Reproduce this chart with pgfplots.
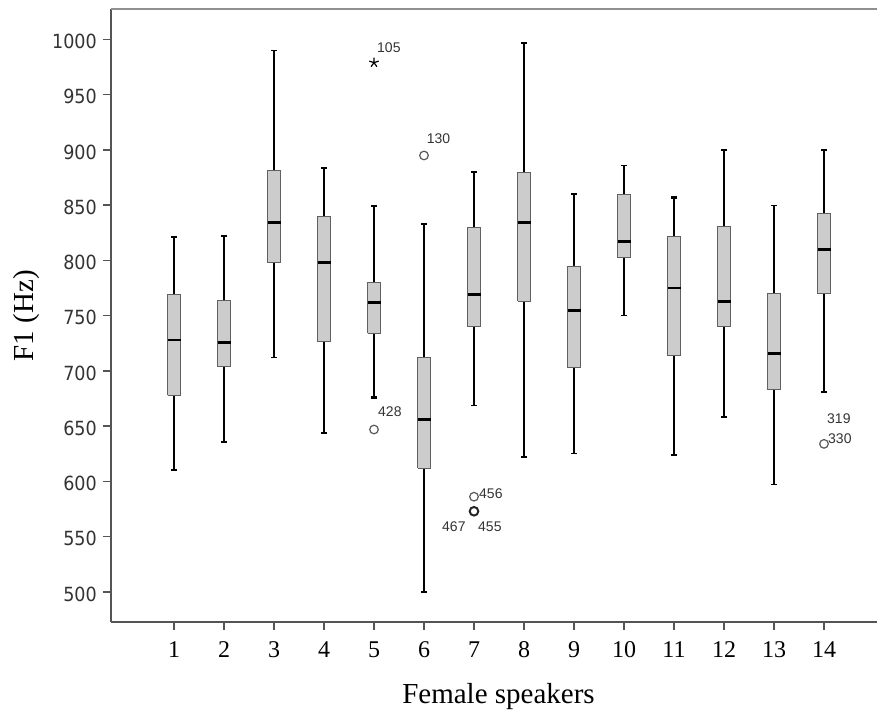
\documentclass[border=0pt]{standalone}
\usepackage{fontspec}
\setmainfont{Liberation Serif}
\newfontfamily\tickfont{DejaVu Sans Condensed}
\newfontfamily\labfont{Liberation Sans}
\usepackage{pgfplots}
\pgfplotsset{compat=1.18}
\definecolor{boxfill}{HTML}{CCCCCC}
\definecolor{boxline}{HTML}{606060}
\definecolor{axisgray}{HTML}{555555}
\definecolor{topgray}{HTML}{909090}
\tikzset{olab/.style={anchor=west, inner sep=0pt, font=\labfont\fontsize{14}{14}\selectfont, text=black!80}}
\begin{document}
\begin{tikzpicture}
\begin{axis}[
  scale only axis, width=766pt, height=612.7pt,
  xmin=-0.26, xmax=15.06, ymin=472.8, ymax=1027.3,
  axis lines=left, axis line style={-, axisgray, line width=1.6pt},
  tick align=outside, major tick length=8pt,
  tick style={axisgray, line width=1.4pt},
  xtick={1,...,14}, ytick={500,550,...,1000},
  clip=false, unbounded coords=jump,
  /pgf/number format/assume math mode=true,
  /pgf/number format/1000 sep={},
  yticklabel style={font=\tickfont\fontsize{19.5}{19.5}\selectfont, text=black!80, anchor=east, inner sep=0pt, xshift=-6pt, yshift=-2pt},
  xticklabel style={font=\fontsize{24}{24}\selectfont, text=black, anchor=north, inner sep=0pt, yshift=-11.7pt},
  xlabel={Female speakers}, ylabel={F1 (Hz)},
  xlabel style={at={(rel axis cs:0.5059,-0.1322)}, anchor=base, font=\fontsize{29}{29}\selectfont},
  ylabel style={at={(rel axis cs:-0.1097,0.5)}, anchor=center, font=\fontsize{29}{29}\selectfont},
]
% whiskers (thick)
\addplot[black, line width=2.2pt] coordinates {
(0.94,821) (1.06,821) (1,nan) (1,821) (1,769) (1,nan) (1,678) (1,610) (1,nan) (0.94,610) (1.06,610) (1,nan)
(1.94,822) (2.06,822) (2,nan) (2,822) (2,764) (2,nan) (2,704) (2,636) (2,nan) (1.94,636) (2.06,636) (2,nan)
(3.94,884) (4.06,884) (4,nan) (4,884) (4,840) (4,nan) (4,726.5) (4,644) (4,nan) (3.94,644) (4.06,644) (4,nan)
(4.94,849) (5.06,849) (5,nan) (5,849) (5,780) (5,nan) (5,734) (5,676) (5,nan) (4.94,676) (5.06,676) (5,nan)
(7.94,997) (8.06,997) (8,nan) (8,997) (8,880) (8,nan) (8,763) (8,622) (8,nan) (7.94,622) (8.06,622) (8,nan)
(10.94,857) (11.06,857) (11,nan) (11,857) (11,821.5) (11,nan) (11,713.6) (11,624) (11,nan) (10.94,624) (11.06,624) (11,nan)
(11.94,900) (12.06,900) (12,nan) (12,900) (12,831) (12,nan) (12,740) (12,658) (12,nan) (11.94,658) (12.06,658) (12,nan)
(13.94,900) (14.06,900) (14,nan) (14,900) (14,842.7) (14,nan) (14,770) (14,681) (14,nan) (13.94,681) (14.06,681) (14,nan)
};
% whiskers (thin)
\addplot[black, line width=1.3pt] coordinates {
(2.94,990) (3.06,990) (3,nan) (3,990) (3,881) (3,nan) (3,798) (3,712) (3,nan) (2.94,712) (3.06,712) (3,nan)
(5.94,833) (6.06,833) (6,nan) (6,833) (6,712) (6,nan) (6,612) (6,500) (6,nan) (5.94,500) (6.06,500) (6,nan)
(6.94,880) (7.06,880) (7,nan) (7,880) (7,830) (7,nan) (7,740) (7,669) (7,nan) (6.94,669) (7.06,669) (7,nan)
(8.94,860) (9.06,860) (9,nan) (9,860) (9,795) (9,nan) (9,703) (9,625) (9,nan) (8.94,625) (9.06,625) (9,nan)
(9.94,886) (10.06,886) (10,nan) (10,886) (10,860) (10,nan) (10,802.5) (10,750) (10,nan) (9.94,750) (10.06,750) (10,nan)
(12.94,850) (13.06,850) (13,nan) (13,850) (13,770) (13,nan) (13,683) (13,597.5) (13,nan) (12.94,597.5) (13.06,597.5) (13,nan)
};
% boxes: lower quartile to upper quartile
\addplot[draw=boxline, fill=boxfill, line width=0.9pt] coordinates {
(0.87,678) (1.13,678) (1.13,769) (0.87,769) (0.87,678) (1,nan)
(1.87,704) (2.13,704) (2.13,764) (1.87,764) (1.87,704) (2,nan)
(2.87,798) (3.13,798) (3.13,881) (2.87,881) (2.87,798) (3,nan)
(3.87,726.5) (4.13,726.5) (4.13,840) (3.87,840) (3.87,726.5) (4,nan)
(4.87,734) (5.13,734) (5.13,780) (4.87,780) (4.87,734) (5,nan)
(5.87,612) (6.13,612) (6.13,712) (5.87,712) (5.87,612) (6,nan)
(6.87,740) (7.13,740) (7.13,830) (6.87,830) (6.87,740) (7,nan)
(7.87,763) (8.13,763) (8.13,880) (7.87,880) (7.87,763) (8,nan)
(8.87,703) (9.13,703) (9.13,795) (8.87,795) (8.87,703) (9,nan)
(9.87,802.5) (10.13,802.5) (10.13,860) (9.87,860) (9.87,802.5) (10,nan)
(10.87,713.6) (11.13,713.6) (11.13,821.5) (10.87,821.5) (10.87,713.6) (11,nan)
(11.87,740) (12.13,740) (12.13,831) (11.87,831) (11.87,740) (12,nan)
(12.87,683) (13.13,683) (13.13,770) (12.87,770) (12.87,683) (13,nan)
(13.87,770) (14.13,770) (14.13,842.7) (13.87,842.7) (13.87,770) (14,nan)
};
% medians
\addplot[black, line width=2.8pt] coordinates {
(0.87,728) (1.13,728) (1,nan) (1.87,726) (2.13,726) (2,nan)
(2.87,834) (3.13,834) (3,nan) (3.87,798) (4.13,798) (4,nan)
(4.87,762) (5.13,762) (5,nan) (5.87,656) (6.13,656) (6,nan)
(6.87,769) (7.13,769) (7,nan) (7.87,834) (8.13,834) (8,nan)
(8.87,755) (9.13,755) (9,nan) (9.87,817) (10.13,817) (10,nan)
(10.87,775) (11.13,775) (11,nan) (11.87,763) (12.13,763) (12,nan)
(12.87,716) (13.13,716) (13,nan) (13.87,810) (14.13,810) (14,nan)
};
% outliers
\addplot[only marks, mark=o, mark size=4.3pt, mark options={draw=black!65, line width=1.2pt}] coordinates {(5,647) (6,895) (7,586.2) (14,634)};
\addplot[only marks, mark=o, mark size=4.3pt, mark options={draw=black!85, line width=2pt}] coordinates {(7,573)};
\addplot[only marks, mark=star, mark size=5pt, mark options={draw=black, line width=1.2pt}] coordinates {(5,979)};
\draw[topgray, line width=1.8pt] (rel axis cs:0,1) -- (rel axis cs:1,1);
\node[olab] at (axis cs:5.06,992.3) {105};
\node[olab] at (axis cs:5.08,662.9) {428};
\node[olab] at (axis cs:6.054,909.95) {130};
\node[olab] at (axis cs:7.1,588.7) {456};
\node[olab] at (axis cs:6.36,559.0) {467};
\node[olab] at (axis cs:7.08,559.0) {455};
\node[olab] at (axis cs:14.06,657) {319};
\node[olab] at (axis cs:14.08,638.5) {330};
\end{axis}
\pgfresetboundingbox
\useasboundingbox (-111pt,-89pt) rectangle (766pt,622pt);
\end{tikzpicture}
\end{document}
